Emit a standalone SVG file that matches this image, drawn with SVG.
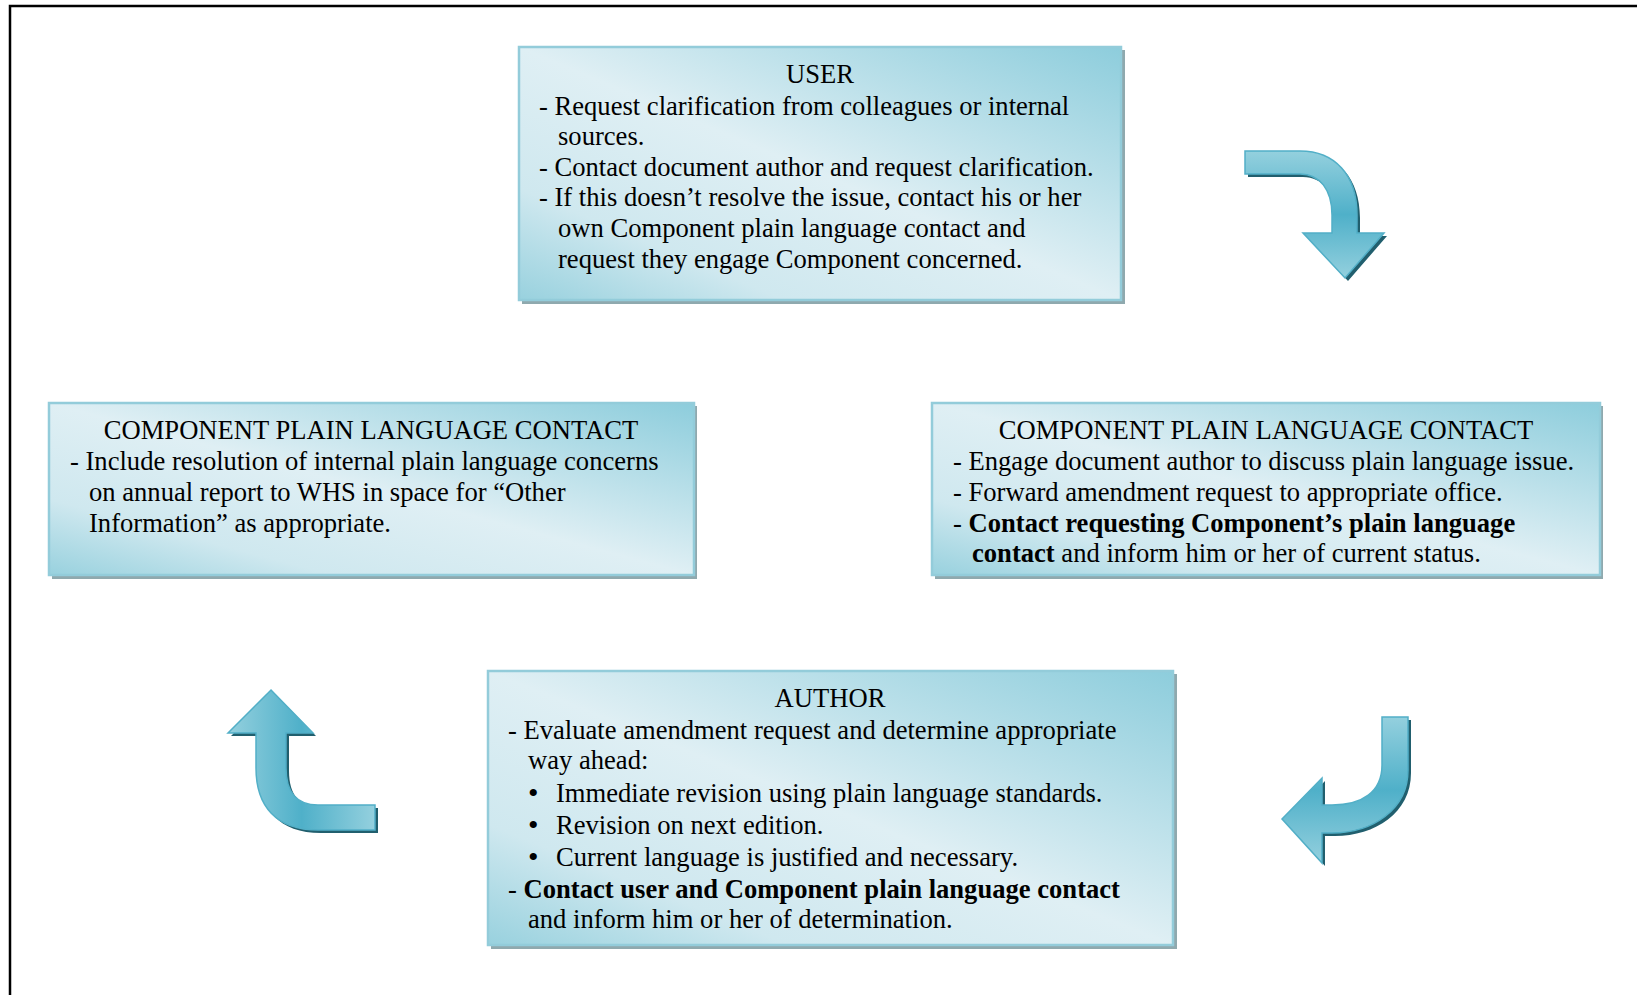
<svg xmlns="http://www.w3.org/2000/svg" width="1637" height="995" viewBox="0 0 1637 995">
<defs>
<linearGradient id="boxg" x1="1" y1="0" x2="0" y2="1">
<stop offset="0" stop-color="#8dcddc"/>
<stop offset="0.5" stop-color="#dfeff4"/>
<stop offset="0.78" stop-color="#cfe8ef"/>
<stop offset="1" stop-color="#98d1de"/>
</linearGradient>
<linearGradient id="arrV" x1="0" y1="0" x2="0" y2="1">
<stop offset="0" stop-color="#94d0de"/>
<stop offset="0.5" stop-color="#4fb0c9"/>
<stop offset="1" stop-color="#94d0de"/>
</linearGradient>
<linearGradient id="arrH" x1="0" y1="0" x2="1" y2="0">
<stop offset="0" stop-color="#94d0de"/>
<stop offset="0.5" stop-color="#4fb0c9"/>
<stop offset="1" stop-color="#94d0de"/>
</linearGradient>
<style>
.box{fill:url(#boxg);stroke:#93ccda;stroke-width:2.5}
.shadow{fill:#8fa9ae}
text{font-family:"Liberation Serif","Times New Roman",serif;font-size:26.6px;fill:#000}
.t{text-anchor:middle}
.b{font-weight:bold}
.bul{font-size:30px}
.arrow{stroke:#52afc7;stroke-width:1.5;stroke-linejoin:miter}
.ashadow{fill:#215f6e}
</style>
</defs>
<rect width="1637" height="995" fill="#fff"/>
<path d="M10,995 L10,6 L1637,6" fill="none" stroke="#000" stroke-width="2.5"/>

<g id="user">
<rect class="shadow" x="522" y="50" width="603" height="254"/>
<rect class="box" x="519" y="47" width="602" height="253"/>
<text class="t" x="820" y="83">USER</text>
<text x="539" y="115">- Request clarification from colleagues or internal</text>
<text x="558" y="145">sources.</text>
<text x="539" y="176">- Contact document author and request clarification.</text>
<text x="539" y="206">- If this doesn’t resolve the issue, contact his or her</text>
<text x="558" y="237">own Component plain language contact and</text>
<text x="558" y="268">request they engage Component concerned.</text>
</g>

<g id="cplc-left">
<rect class="shadow" x="52" y="406" width="645" height="173"/>
<rect class="box" x="49" y="403" width="645" height="172"/>
<text class="t" x="371" y="439">COMPONENT PLAIN LANGUAGE CONTACT</text>
<text x="70" y="470">- Include resolution of internal plain language concerns</text>
<text x="89" y="501">on annual report to WHS in space for “Other</text>
<text x="89" y="532">Information” as appropriate.</text>
</g>

<g id="cplc-right">
<rect class="shadow" x="935" y="406" width="668" height="173"/>
<rect class="box" x="932" y="403" width="668" height="172"/>
<text class="t" x="1266" y="439">COMPONENT PLAIN LANGUAGE CONTACT</text>
<text x="953" y="470">- Engage document author to discuss plain language issue.</text>
<text x="953" y="501">- Forward amendment request to appropriate office.</text>
<text x="953" y="532">- <tspan class="b">Contact requesting Component’s plain language</tspan></text>
<text x="972" y="562"><tspan class="b">contact</tspan> and inform him or her of current status.</text>
</g>

<g id="author">
<rect class="shadow" x="491" y="674" width="686" height="275"/>
<rect class="box" x="488" y="671" width="685" height="274"/>
<text class="t" x="830" y="707">AUTHOR</text>
<text x="508" y="739">- Evaluate amendment request and determine appropriate</text>
<text x="528" y="769">way ahead:</text>
<text class="bul" x="528" y="803">•</text><text x="556" y="802">Immediate revision using plain language standards.</text>
<text class="bul" x="528" y="835">•</text><text x="556" y="834">Revision on next edition.</text>
<text class="bul" x="528" y="867">•</text><text x="556" y="866">Current language is justified and necessary.</text>
<text x="508" y="898">- <tspan class="b">Contact user and Component plain language contact</tspan></text>
<text x="528" y="928">and inform him or her of determination.</text>
</g>

<g id="connectors">
<g id="arrow-top-right">
<path class="ashadow" transform="translate(3,3)" d="M1245,151 L1300,151 C1335,151 1357,175 1357,215 L1357,233 L1384,233 L1345,278 L1303,233 L1332,233 L1332,215 C1332,190 1320,174 1300,174 L1245,174 Z"/>
<path class="arrow" fill="url(#arrV)" d="M1245,151 L1300,151 C1335,151 1357,175 1357,215 L1357,233 L1384,233 L1345,278 L1303,233 L1332,233 L1332,215 C1332,190 1320,174 1300,174 L1245,174 Z"/>
</g>
<g id="arrow-bottom-right">
<path class="ashadow" transform="translate(3,3)" d="M1382,717 L1408,717 L1408,770 C1408,810 1372,833 1332,833 L1322,833 L1322,863 L1282,819 L1322,778 L1322,805 L1332,805 C1362,805 1382,792 1382,765 Z"/>
<path class="arrow" fill="url(#arrV)" d="M1382,717 L1408,717 L1408,770 C1408,810 1372,833 1332,833 L1322,833 L1322,863 L1282,819 L1322,778 L1322,805 L1332,805 C1362,805 1382,792 1382,765 Z"/>
</g>
<g id="arrow-bottom-left">
<path class="ashadow" transform="translate(3,3)" d="M271,690 L313,733 L286,733 L286,768 C286,792 297,805 318,805 L375,805 L375,830 L318,830 C276,830 256,806 256,768 L256,733 L228,733 Z"/>
<path class="arrow" fill="url(#arrH)" d="M271,690 L313,733 L286,733 L286,768 C286,792 297,805 318,805 L375,805 L375,830 L318,830 C276,830 256,806 256,768 L256,733 L228,733 Z"/>
</g>
</g>
</svg>
